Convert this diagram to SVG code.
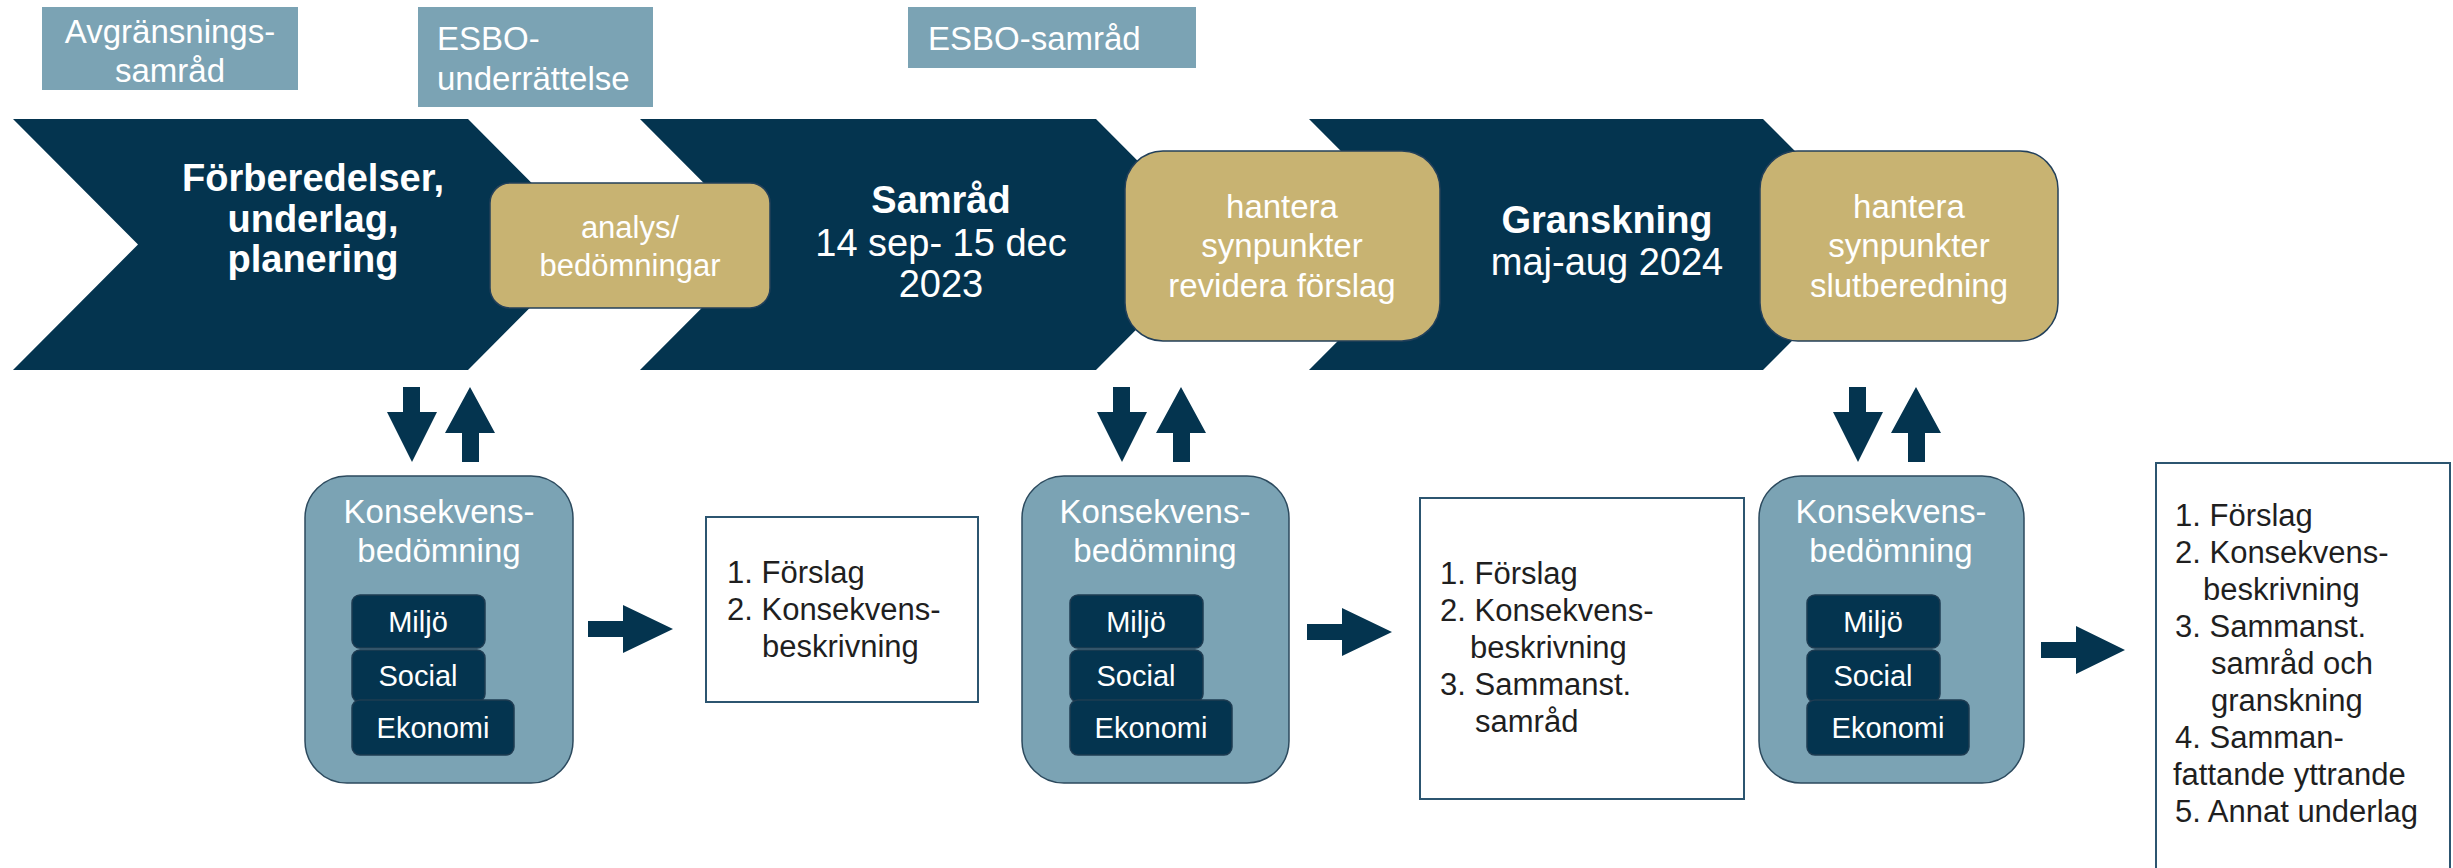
<svg xmlns="http://www.w3.org/2000/svg" width="2453" height="868" viewBox="0 0 2453 868">
<style>
text{font-family:"Liberation Sans",Arial,sans-serif;}
.lbl{fill:#7BA3B4;}
.lt{fill:#ffffff;font-size:33px;}
.chev{fill:#04344F;}
.ct{fill:#ffffff;font-size:38px;text-anchor:middle;}
.b{font-weight:bold;}
.gold{fill:#C8B372;stroke:#23405A;stroke-width:1.5;}
.gt{fill:#ffffff;font-size:33px;text-anchor:middle;}
.kb{fill:#7BA3B4;stroke:#2C4A5E;stroke-width:1.5;}
.kt{fill:#ffffff;font-size:33px;text-anchor:middle;}
.ib{fill:#04344F;stroke:#1E3C52;stroke-width:1.5;}
.it{fill:#ffffff;font-size:29px;text-anchor:middle;}
.lb{fill:#ffffff;stroke:#2C5570;stroke-width:2;}
.ltx{fill:#1f1f1f;font-size:31px;}
.arr{fill:#04344F;}
</style>

<g id="label-avgransning">
<rect class="lbl" x="42" y="7" width="256" height="83"/>
<text class="lt" x="170" y="43" text-anchor="middle">Avgränsnings-</text>
<text class="lt" x="170" y="82" text-anchor="middle">samråd</text>
</g>
<g id="label-esbo-underrattelse">
<rect class="lbl" x="418" y="7" width="235" height="100"/>
<text class="lt" x="437" y="50">ESBO-</text>
<text class="lt" x="437" y="90">underrättelse</text>
</g>
<g id="label-esbo-samrad">
<rect class="lbl" x="908" y="7" width="288" height="61"/>
<text class="lt" x="928" y="50">ESBO-samråd</text>
</g>

<g id="phase-forberedelser">
<polygon class="chev" points="13,119 468,119 593,244.5 468,370 13,370 138,244.5"/>
<text class="ct b" x="313" y="191">Förberedelser,</text>
<text class="ct b" x="313" y="232">underlag,</text>
<text class="ct b" x="313" y="272">planering</text>
</g>
<g id="phase-samrad">
<polygon class="chev" points="640,119 1096,119 1221,244.5 1096,370 640,370 765,244.5"/>
<text class="ct b" x="941" y="213">Samråd</text>
<text class="ct" x="941" y="256">14 sep- 15 dec</text>
<text class="ct" x="941" y="297">2023</text>
</g>
<g id="phase-granskning">
<polygon class="chev" points="1309,119 1763,119 1888,244.5 1763,370 1309,370 1434,244.5"/>
<text class="ct b" x="1607" y="233">Granskning</text>
<text class="ct" x="1607" y="275">maj-aug 2024</text>
</g>

<g id="step-analys">
<rect class="gold" x="490" y="183" width="280" height="125" rx="20"/>
<text class="gt" x="630" y="238" style="font-size:31px">analys/</text>
<text class="gt" x="630" y="276" style="font-size:31px">bedömningar</text>
</g>
<g id="step-hantera-1">
<rect class="gold" x="1125" y="151" width="315" height="190" rx="38"/>
<text class="gt" x="1282" y="218">hantera</text>
<text class="gt" x="1282" y="257">synpunkter</text>
<text class="gt" x="1282" y="297">revidera förslag</text>
</g>
<g id="step-hantera-2">
<rect class="gold" x="1760" y="151" width="298" height="190" rx="38"/>
<text class="gt" x="1909" y="218">hantera</text>
<text class="gt" x="1909" y="257">synpunkter</text>
<text class="gt" x="1909" y="297">slutberedning</text>
</g>

<g id="kb-1">
<rect class="kb" x="305" y="476" width="268" height="307" rx="42"/>
<text class="kt" x="439" y="523">Konsekvens-</text>
<text class="kt" x="439" y="562">bedömning</text>
<rect class="ib" x="352" y="595" width="133" height="53" rx="8"/>
<text class="it" x="418" y="632">Miljö</text>
<rect class="ib" x="352" y="650" width="133" height="52" rx="8"/>
<text class="it" x="418" y="686">Social</text>
<rect class="ib" x="352" y="700" width="162" height="55" rx="8"/>
<text class="it" x="433" y="738">Ekonomi</text>
</g>
<g id="kb-2">
<rect class="kb" x="1022" y="476" width="267" height="307" rx="42"/>
<text class="kt" x="1155" y="523">Konsekvens-</text>
<text class="kt" x="1155" y="562">bedömning</text>
<rect class="ib" x="1070" y="595" width="133" height="53" rx="8"/>
<text class="it" x="1136" y="632">Miljö</text>
<rect class="ib" x="1070" y="650" width="133" height="52" rx="8"/>
<text class="it" x="1136" y="686">Social</text>
<rect class="ib" x="1070" y="700" width="162" height="55" rx="8"/>
<text class="it" x="1151" y="738">Ekonomi</text>
</g>
<g id="kb-3">
<rect class="kb" x="1759" y="476" width="265" height="307" rx="42"/>
<text class="kt" x="1891" y="523">Konsekvens-</text>
<text class="kt" x="1891" y="562">bedömning</text>
<rect class="ib" x="1807" y="595" width="133" height="53" rx="8"/>
<text class="it" x="1873" y="632">Miljö</text>
<rect class="ib" x="1807" y="650" width="133" height="52" rx="8"/>
<text class="it" x="1873" y="686">Social</text>
<rect class="ib" x="1807" y="700" width="162" height="55" rx="8"/>
<text class="it" x="1888" y="738">Ekonomi</text>
</g>

<g id="list-1">
<rect class="lb" x="706" y="517" width="272" height="185"/>
<text class="ltx" x="727" y="583">1. Förslag</text>
<text class="ltx" x="727" y="620">2. Konsekvens-</text>
<text class="ltx" x="762" y="657">beskrivning</text>
</g>
<g id="list-2">
<rect class="lb" x="1420" y="498" width="324" height="301"/>
<text class="ltx" x="1440" y="584">1. Förslag</text>
<text class="ltx" x="1440" y="621">2. Konsekvens-</text>
<text class="ltx" x="1470" y="658">beskrivning</text>
<text class="ltx" x="1440" y="695">3. Sammanst.</text>
<text class="ltx" x="1475" y="732">samråd</text>
</g>
<g id="list-3">
<rect class="lb" x="2156" y="463" width="294" height="420"/>
<text class="ltx" x="2175" y="526">1. Förslag</text>
<text class="ltx" x="2175" y="563">2. Konsekvens-</text>
<text class="ltx" x="2203" y="600">beskrivning</text>
<text class="ltx" x="2175" y="637">3. Sammanst.</text>
<text class="ltx" x="2211" y="674">samråd och</text>
<text class="ltx" x="2211" y="711">granskning</text>
<text class="ltx" x="2175" y="748">4. Samman-</text>
<text class="ltx" x="2173" y="785">fattande yttrande</text>
<text class="ltx" x="2175" y="822">5. Annat underlag</text>
</g>

<g id="connectors">
<polygon class="arr" points="403,387 420,387 420,412 437,412 412,462 387,412 403,412"/>
<polygon class="arr" points="470,387 495,433 479,433 479,462 462,462 462,433 445,433"/>
<polygon class="arr" points="1113,387 1130,387 1130,412 1147,412 1122,462 1097,412 1113,412"/>
<polygon class="arr" points="1181,387 1206,433 1190,433 1190,462 1173,462 1173,433 1156,433"/>
<polygon class="arr" points="1849,387 1866,387 1866,412 1883,412 1858,462 1833,412 1849,412"/>
<polygon class="arr" points="1916,387 1941,433 1925,433 1925,462 1908,462 1908,433 1891,433"/>
<polygon class="arr" points="588,621 623,621 623,605 673,629 623,653 623,637 588,637"/>
<polygon class="arr" points="1307,624 1342,624 1342,608 1392,632 1342,656 1342,640 1307,640"/>
<polygon class="arr" points="2041,642 2076,642 2076,626 2125,650 2076,674 2076,658 2041,658"/>
</g>
</svg>
